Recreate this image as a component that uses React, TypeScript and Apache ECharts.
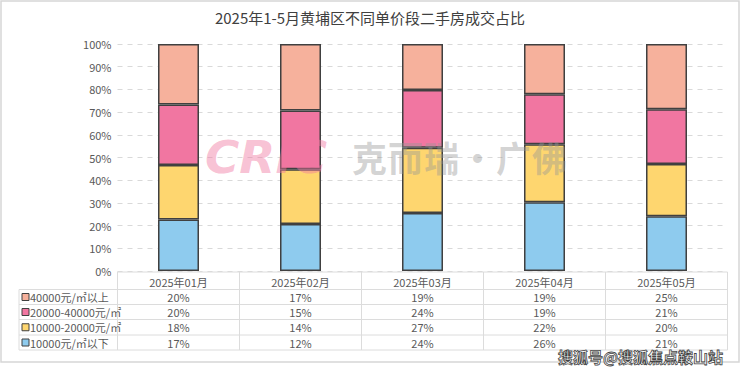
import React, { useEffect, useRef } from "react";
import * as echarts from "echarts";

const title = "2025年1-5月黄埔区不同单价段二手房成交占比";
const categories = ["2025年01月", "2025年02月", "2025年03月", "2025年04月", "2025年05月"];
const seriesNames = ["10000元/㎡以下", "10000-20000元/㎡", "20000-40000元/㎡", "40000元/㎡以上"];
const below10k = [17, 12, 24, 26, 21];
const from10kTo20k = [18, 14, 27, 22, 20];
const from20kTo40k = [20, 15, 24, 19, 21];
const above40k = [20, 17, 19, 19, 25];
const colors = ["#8ECBEE", "#FED66F", "#F176A1", "#F6B19C"];
const yTicks = [0, 10, 20, 30, 40, 50, 60, 70, 80, 90, 100];

const FONT = "'Noto Sans CJK SC', 'Noto Sans', sans-serif";

export default function App() {
  const ref = useRef<HTMLDivElement>(null);
  useEffect(() => {
    document.body.style.margin = "0";
    const chart = echarts.init(ref.current!, undefined, { renderer: "svg" });
    const raw = [below10k, from10kTo20k, from20kTo40k, above40k];
    const totals = categories.map((_, i) => raw.reduce((s, arr) => s + arr[i], 0));
    const pct = raw.map((arr) => arr.map((v, i) => (v / totals[i]) * 100));

    const gridLeft = 117.5;
    const gridRight = 12.5;
    const gridTop = 44;
    const gridBottom = 100;

    chart.setOption({
      animation: false,
      textStyle: { fontFamily: FONT },
      title: {
        text: title,
        left: "center",
        top: 5,
        textStyle: { fontSize: 15, fontWeight: "normal", color: "#404040", fontFamily: FONT },
      },
      grid: { left: gridLeft, right: gridRight, top: gridTop, bottom: gridBottom, containLabel: false },
      xAxis: {
        type: "category",
        data: categories,
        axisLine: { show: false },
        axisTick: { show: false },
        axisLabel: { color: "#595959", fontSize: 11, margin: 5, fontFamily: FONT },
      },
      yAxis: {
        type: "value",
        min: yTicks[0],
        max: yTicks[yTicks.length - 1],
        interval: 10,
        axisLine: { show: false },
        axisTick: { show: false },
        axisLabel: { formatter: "{value}%", color: "#595959", fontSize: 11, margin: 6, fontFamily: FONT },
        splitLine: { lineStyle: { type: [5, 5], color: "#D9D9D9", width: 1 } },
      },
      series: seriesNames.map((name, k) => ({
        name,
        type: "bar",
        stack: "total",
        barWidth: "33.6%",
        data: pct[k],
        itemStyle: { color: colors[k], borderColor: "#404040", borderWidth: 1.5 },
      })),
    });

    const xs = categories.map((c) => chart.convertToPixel({ xAxisIndex: 0 }, c) as number);
    const band = xs.length > 1 ? xs[1] - xs[0] : 122;
    const tableLeft = xs[0] - band / 2;
    const tableRight = xs[xs.length - 1] + band / 2;
    const legendLeft = 19;
    const headerTop = 272;
    const rowYs = [289.5, 304.5, 319.5, 335, 350];
    const lineColor = "#DCDCDC";
    const g: any[] = [];

    // outer frame
    g.push({ type: "rect", shape: { x: 1, y: 1, width: 738, height: 361 }, style: { fill: "none", stroke: "#D6D6D6", lineWidth: 1.5 }, silent: true });

    // table lines
    g.push({ type: "line", shape: { x1: tableLeft, y1: headerTop, x2: tableRight, y2: headerTop }, style: { stroke: lineColor, lineWidth: 1 }, silent: true });
    rowYs.forEach((y) => {
      g.push({ type: "line", shape: { x1: legendLeft, y1: y, x2: tableRight, y2: y }, style: { stroke: lineColor, lineWidth: 1 }, silent: true });
    });
    g.push({ type: "line", shape: { x1: legendLeft, y1: rowYs[0], x2: legendLeft, y2: rowYs[rowYs.length - 1] }, style: { stroke: lineColor, lineWidth: 1 }, silent: true });
    for (let i = 0; i <= xs.length; i++) {
      const x = tableLeft + band * i;
      g.push({ type: "line", shape: { x1: x, y1: headerTop, x2: x, y2: rowYs[rowYs.length - 1] }, style: { stroke: lineColor, lineWidth: 1 }, silent: true });
    }

    // table rows: top row is the last series
    const order = [3, 2, 1, 0];
    order.forEach((k, r) => {
      const yc = (rowYs[r] + rowYs[r + 1]) / 2;
      g.push({ type: "rect", shape: { x: 22, y: yc - 3.5, width: 7, height: 7 }, style: { fill: colors[k], stroke: "#404040", lineWidth: 1 }, silent: true });
      g.push({
        type: "text", x: 30, y: yc,
        style: { text: seriesNames[k], fill: "#595959", font: `11px ${FONT}`, verticalAlign: "middle", align: "left" },
        silent: true,
      });
      xs.forEach((x, i) => {
        g.push({
          type: "text", x, y: yc,
          style: { text: `${raw[k][i]}%`, fill: "#595959", font: `11px ${FONT}`, verticalAlign: "middle", align: "center" },
          silent: true,
        });
      });
    });

    chart.setOption({ graphic: g });
    return () => chart.dispose();
  }, []);
  return (
    <div style={{ position: "relative", width: 740, height: 371 }}>
      <div ref={ref} style={{ width: 740, height: 371 }} />
      <div
        style={{
          position: "absolute", left: 205, top: 131, height: 44, lineHeight: "44px",
          font: "italic bold 45px 'DejaVu Sans', sans-serif", color: "rgba(241,118,161,0.45)",
          transform: "scaleX(1.04)", transformOrigin: "left center", pointerEvents: "none", whiteSpace: "nowrap",
        }}
      >
        CRIC
      </div>
      <div
        style={{
          position: "absolute", left: 352, top: 131, height: 44, lineHeight: "44px",
          font: "bold 35px 'Noto Sans CJK SC', sans-serif", color: "rgba(150,150,150,0.42)",
          letterSpacing: 1, pointerEvents: "none", whiteSpace: "nowrap",
        }}
      >
        克而瑞·广佛
      </div>
      <div
        style={{
          position: "absolute", right: 17, top: 346, height: 20, lineHeight: "20px",
          font: `bold 15px ${FONT}`, color: "#FFFFFF", WebkitTextStroke: "0.8px #444444",
          pointerEvents: "none", whiteSpace: "nowrap",
        }}
      >
        搜狐号@搜狐焦点鞍山站
      </div>
    </div>
  );
}
